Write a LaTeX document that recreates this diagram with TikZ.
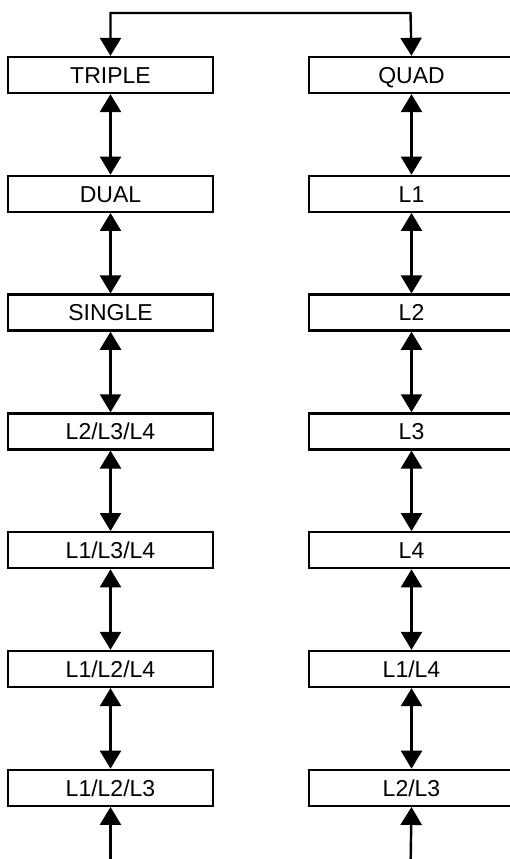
\documentclass[tikz,border=0pt]{standalone}
\usepackage{fontspec}
\setmainfont{Liberation Sans}
\usetikzlibrary{arrows.meta}
\begin{document}
\begin{tikzpicture}[x=1pt,y=-1pt,
  box/.style={draw, line width=2.3pt, minimum width=205pt, minimum height=36pt,
    inner sep=0pt, text height=16.5pt, text depth=0pt,
    font=\fontsize{23}{27}\selectfont, fill=white},
  conn/.style={line width=2.4pt, {Triangle[width=21pt,length=18pt]}-{Triangle[width=21pt,length=18pt]}},
  upconn/.style={line width=2.4pt, -{Triangle[width=21pt,length=18pt]}}]
\useasboundingbox (0,0) rectangle (510,859);
\def\dy{118.8}
\foreach \name/\txt [count=\i from 0] in {a0/TRIPLE,a1/DUAL,a2/SINGLE,a3/L2\slash L3\slash L4,a4/L1\slash L3\slash L4,a5/L1\slash L2\slash L4,a6/L1\slash L2\slash L3}
  \node[box] (\name) at (110.5,{75+\i*\dy}) {\txt};
\foreach \name/\txt [count=\i from 0] in {b0/QUAD,b1/L1,b2/L2,b3/L3,b4/L4,b5/L1\slash L4,b6/L2\slash L3}
  \node[box] (\name) at (411.5,{75+\i*\dy}) {\txt};
\coordinate (t1) at (110.5,13);
\coordinate (t2) at (410.5,13);
\draw[conn, line join=miter] (a0.north) -- (t1) -- (t2) -- (b0.north);
\foreach \i [evaluate=\i as \j using int(\i+1)] in {0,...,5}{
  \draw[conn] (a\i.south) -- (a\j.north);
  \draw[conn] (b\i.south) -- (b\j.north);
}
\coordinate (e1) at (110.5,870);
\coordinate (e2) at (410.5,870);
\draw[upconn] (e1) -- (a6.south);
\draw[upconn] (e2) -- (b6.south);
\end{tikzpicture}
\end{document}
